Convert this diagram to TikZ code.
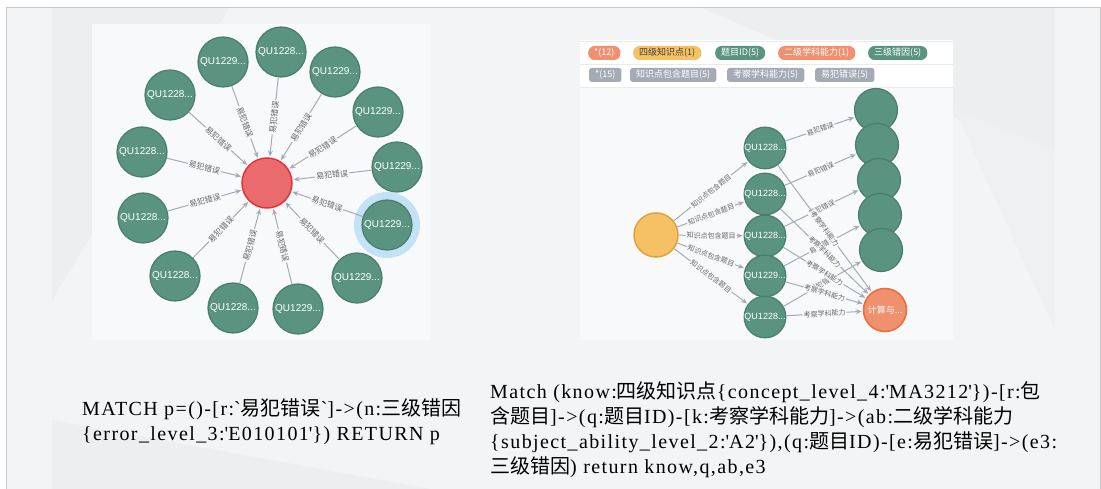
\documentclass[tikz,border=0pt]{standalone}
\usepackage{fontspec}
\setmainfont{Liberation Serif}[LetterSpace=7]
\newfontfamily\cjk{Noto Sans CJK SC}
\newfontfamily\sansfont{Liberation Sans}
\usetikzlibrary{arrows.meta}

\definecolor{qgreen}{HTML}{5A9480}
\definecolor{qborder}{HTML}{4A7D6B}
\definecolor{errred}{HTML}{EA6B6E}
\definecolor{errborder}{HTML}{E0353A}
\definecolor{knowyellow}{HTML}{F6C164}
\definecolor{knowborder}{HTML}{DEA33A}
\definecolor{abilsalmon}{HTML}{F0906E}
\definecolor{abilborder}{HTML}{F06A3A}
\definecolor{relgray}{HTML}{A5ABB6}
\definecolor{panelbg}{HTML}{F7F9FB}
\definecolor{halo}{HTML}{C4E2F5}
\definecolor{labelgray}{HTML}{666666}
\definecolor{slidebg}{HTML}{F3F4F5}
\definecolor{polyfill}{HTML}{ECEEF0}
\definecolor{framegray}{HTML}{C8C8C8}

\tikzset{
  qnode/.style={circle, draw=qborder, line width=1.2pt, fill=qgreen, minimum size=50pt, inner sep=0pt, text=white, font=\sansfont\fontsize{10}{10}\selectfont},
  qsmall/.style={qnode, minimum size=40pt, font=\sansfont\fontsize{9}{9}\selectfont},
  enode/.style={qnode, minimum size=43pt},
  errnode/.style={circle, draw=errborder, line width=1.5pt, fill=errred, minimum size=50pt, inner sep=0pt},
  knownode/.style={circle, draw=knowborder, line width=1.5pt, fill=knowyellow, minimum size=44pt, inner sep=0pt},
  abilnode/.style={circle, draw=abilborder, line width=1.5pt, fill=abilsalmon, minimum size=43pt, inner sep=0pt, text=white, font=\cjk\fontsize{9}{9}\selectfont},
  rel/.style={draw=relgray, line width=1pt, -{Stealth[length=6pt,width=5pt]}, shorten >=1pt},
  elabel/.style={sloped, fill=panelbg, inner sep=1pt, text=labelgray, font=\cjk\fontsize{8}{8}\selectfont},
  slabel/.style={elabel, font=\cjk\fontsize{7}{7}\selectfont},
  pill/.style={rounded corners=6.5pt, minimum height=14pt, inner xsep=6pt, inner ysep=0pt, anchor=west, text=white, font=\cjk\fontsize{9}{9}\selectfont},
  tag/.style={pill, rounded corners=2.5pt, fill=relgray},
  query/.style={anchor=base west, inner sep=0pt, font=\fontsize{20}{25}\selectfont}
}

\begin{document}
\begin{tikzpicture}[x=1pt, y=-1pt]
  \useasboundingbox (0,0) rectangle (1101,489);
  % slide background
  \fill[white] (0,0) rectangle (1101,489);
  \fill[slidebg] (6,7) rectangle (1101,489);
  \fill[polyfill] (52,7) -- (230,7) -- (52,300) -- cycle;
  \fill[polyfill] (700,7) -- (1055,7) -- (1055,160) -- cycle;
  \fill[polyfill] (430,489) -- (52,420) -- (52,489) -- cycle;
  \fill[polyfill!60!slidebg] (955,110) -- (1055,150) -- (1055,330) -- cycle;
  \draw[framegray] (6,489) -- (6,7) -- (1100,7) -- (1100,489);

  % left panel
  \fill[panelbg] (92,24) rectangle (430,340);
  \fill[halo] (387,225) circle (33pt);

  \node (err) [errnode] at (267,183) {};
  \node (q1) [qnode] at (281,52) {QU1228...};
  \node (q2) [qnode] at (223,62) {QU1229...};
  \node (q3) [qnode] at (335,72) {QU1229...};
  \node (q4) [qnode] at (170,95) {QU1228...};
  \node (q5) [qnode] at (378,112) {QU1229...};
  \node (q6) [qnode] at (142,152) {QU1228...};
  \node (q7) [qnode] at (397,167) {QU1229...};
  \node (q8) [qnode] at (143,218) {QU1228...};
  \node (q9) [qnode] at (387,225) {QU1229...};
  \node (q10) [qnode] at (175,276) {QU1228...};
  \node (q11) [qnode] at (357,278) {QU1229...};
  \node (q12) [qnode] at (233,308) {QU1228...};
  \node (q13) [qnode] at (298,309) {QU1229...};

  \draw[rel] (q1) -- node[elabel] {易犯错误} (err);
  \draw[rel] (q2) -- node[elabel] {易犯错误} (err);
  \draw[rel] (q3) -- node[elabel] {易犯错误} (err);
  \draw[rel] (q4) -- node[elabel] {易犯错误} (err);
  \draw[rel] (q5) -- node[elabel] {易犯错误} (err);
  \draw[rel] (q6) -- node[elabel] {易犯错误} (err);
  \draw[rel] (q7) -- node[elabel] {易犯错误} (err);
  \draw[rel] (q8) -- node[elabel] {易犯错误} (err);
  \draw[rel] (q9) -- node[elabel] {易犯错误} (err);
  \draw[rel] (q10) -- node[elabel] {易犯错误} (err);
  \draw[rel] (q11) -- node[elabel] {易犯错误} (err);
  \draw[rel] (q12) -- node[elabel] {易犯错误} (err);
  \draw[rel] (q13) -- node[elabel] {易犯错误} (err);

  % right panel
  \fill[white] (580,40) rectangle (953,88);
  \fill[panelbg] (580,88) rectangle (953,340);
  \draw[black!8] (580,41) -- (953,41);
  \draw[black!8] (580,64) -- (953,64);
  \draw[black!8] (580,87) -- (953,87);

  \node (allnodes) [pill, fill=abilsalmon] at (588,53) {*(12)};
  \node (lgknow) [pill, fill=knowyellow, text=black!75] at (633,53) {四级知识点(1)};
  \node (lgq) [pill, fill=qgreen] at (715,53) {题目ID(5)};
  \node (lgabil) [pill, fill=abilsalmon] at (778,53) {二级学科能力(1)};
  \node (lgerr) [pill, fill=qgreen] at (868,53) {三级错因(5)};
  \node (allrels) [tag] at (589,75) {*(15)};
  \node (lgcontain) [tag] at (630,75) {知识点包含题目(5)};
  \node (lgexam) [tag] at (727,75) {考察学科能力(5)};
  \node (lgmistake) [tag] at (815,75) {易犯错误(5)};

  \node (know) [knownode] at (656,235) {};
  \node (m1) [qsmall] at (765,148) {QU1228...};
  \node (m2) [qsmall] at (765,194) {QU1228...};
  \node (m3) [qsmall] at (765,236) {QU1228...};
  \node (m4) [qsmall] at (765,276) {QU1229...};
  \node (m5) [qsmall] at (765,317) {QU1228...};
  \node (e1) [enode] at (876,110) {};
  \node (e2) [enode] at (877,145) {};
  \node (e3) [enode] at (879,180) {};
  \node (e4) [enode] at (880,215) {};
  \node (e5) [enode] at (881,250) {};
  \node (abil) [abilnode] at (885,310) {计算与...};

  \draw[rel] (know) -- node[slabel] {知识点包含题目} (m1);
  \draw[rel] (know) -- node[slabel] {知识点包含题目} (m2);
  \draw[rel] (know) -- node[slabel] {知识点包含题目} (m3);
  \draw[rel] (know) -- node[slabel] {知识点包含题目} (m4);
  \draw[rel] (know) -- node[slabel] {知识点包含题目} (m5);

  \draw[rel] (m1) -- node[slabel] {易犯错误} (e1);
  \draw[rel] (m2) -- node[slabel] {易犯错误} (e2);
  \draw[rel] (m3) -- node[slabel] {易犯错误} (e3);
  \draw[rel] (m4) -- node[slabel] {易犯错误} (e4);
  \draw[rel] (m5) -- node[slabel] {易犯错误} (e5);

  \draw[rel] (m1) -- node[slabel] {考察学科能力} (abil);
  \draw[rel] (m2) -- node[slabel] {考察学科能力} (abil);
  \draw[rel] (m3) -- node[slabel] {考察学科能力} (abil);
  \draw[rel] (m4) -- node[slabel] {考察学科能力} (abil);
  \draw[rel] (m5) -- node[slabel] {考察学科能力} (abil);

  % queries
  \node (leftq1) [query] at (82,415) {MATCH p=()-[r:\textasciigrave{\cjk 易犯错误}\textasciigrave]->(n:{\cjk 三级错因}};
  \node (leftq2) [query] at (82,440) {\{error\_level\_3:\textquotesingle E010101\textquotesingle\}) RETURN p};

  \node (rightq1) [query] at (490,398) {Match (know:{\cjk 四级知识点}\{concept\_level\_4:\textquotesingle MA3212\textquotesingle\})-[r:{\cjk 包}};
  \node (rightq2) [query] at (490,423) {{\cjk 含题目}]->(q:{\cjk 题目}ID)-[k:{\cjk 考察学科能力}]->(ab:{\cjk 二级学科能力}};
  \node (rightq3) [query] at (490,448) {\{subject\_ability\_level\_2:\textquotesingle A2\textquotesingle\}),(q:{\cjk 题目}ID)-[e:{\cjk 易犯错误}]->(e3:};
  \node (rightq4) [query] at (490,473) {{\cjk 三级错因}) return know,q,ab,e3};
\end{tikzpicture}
\end{document}
